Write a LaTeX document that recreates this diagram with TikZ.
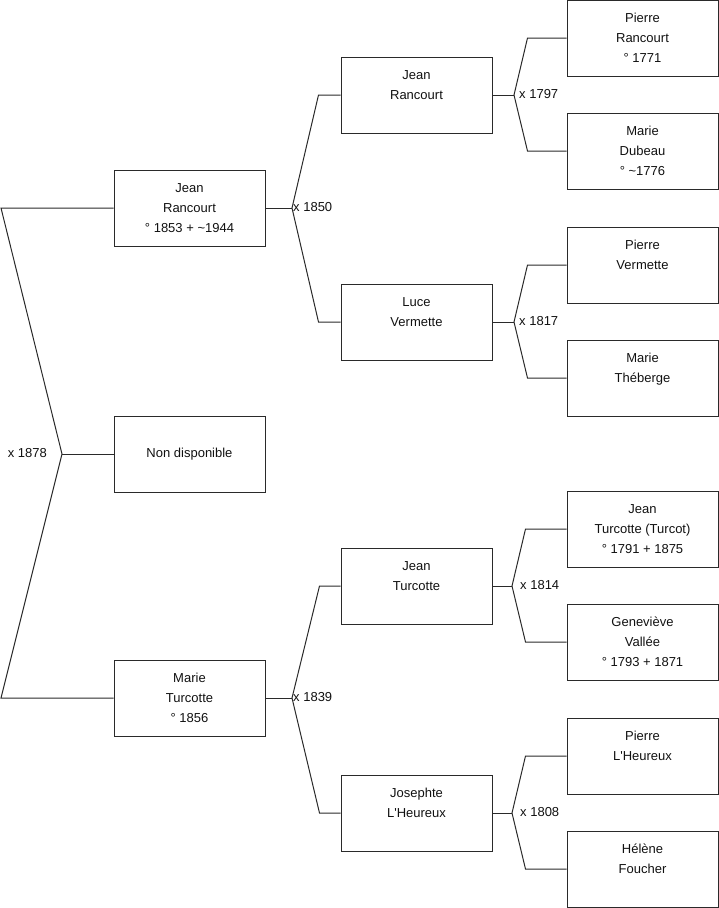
\documentclass[tikz,border=0pt]{standalone}
\usepackage{fontspec}
\setmainfont{Liberation Sans}
\usetikzlibrary{positioning,calc}
\definecolor{gnInk}{HTML}{2A2A2A}
\definecolor{gnText}{HTML}{111111}
\tikzset{
  pers/.style={draw=gnInk, line width=1pt, minimum width=151pt, minimum height=76pt, inner sep=0pt, align=center, text=gnText, font=\fontsize{13}{20}\selectfont},
  lien/.style={draw=gnInk, line width=1pt},
  mar/.style={anchor=west, inner sep=1pt, text=gnText, font=\fontsize{13}{16}\selectfont},
}
\newcommand{\fiche}[3]{\strut#1\\\strut#2\\\strut#3}

\begin{document}
\begin{tikzpicture}[x=1pt, y=-1pt]
  \useasboundingbox (0,0) rectangle (719,908);
  % generation 1
  \node[pers] (p1) at (189.5,208) {\fiche{Jean}{Rancourt}{° 1853 + \textasciitilde1944}};
  \node[pers] (nd) at (189.5,454) {Non disponible};
  \node[pers] (p3) at (189.5,698) {\fiche{Marie}{Turcotte}{° 1856}};
  % generation 2
  \node[pers] (g1) at (416.5,95) {\fiche{Jean}{Rancourt}{}};
  \node[pers] (g2) at (416.5,322) {\fiche{Luce}{Vermette}{}};
  \node[pers] (g3) at (416.5,586) {\fiche{Jean}{Turcotte}{}};
  \node[pers] (g4) at (416.5,813) {\fiche{Josephte}{L\textquotesingle Heureux}{}};
  % generation 3
  \node[pers] (a1) at (642.5,38) {\fiche{Pierre}{Rancourt}{° 1771}};
  \node[pers] (a2) at (642.5,151) {\fiche{Marie}{Dubeau}{° \textasciitilde1776}};
  \node[pers] (a3) at (642.5,265) {\fiche{Pierre}{Vermette}{}};
  \node[pers] (a4) at (642.5,378) {\fiche{Marie}{Théberge}{}};
  \node[pers] (a5) at (642.5,529) {\fiche{Jean}{Turcotte (Turcot)}{° 1791 + 1875}};
  \node[pers] (a6) at (642.5,642) {\fiche{Geneviève}{Vallée}{° 1793 + 1871}};
  \node[pers] (a7) at (642.5,756) {\fiche{Pierre}{L\textquotesingle Heureux}{}};
  \node[pers] (a8) at (642.5,869) {\fiche{Hélène}{Foucher}{}};

  % racine
  \coordinate (m0) at (62,454);
  \coordinate (bord) at (1,0);
  \draw[lien] (p1.west) -- (p1.west -| bord) -- (m0) -- (p3.west -| bord) -- (p3.west);
  \draw[lien] (m0) -- (nd.west);
  \node[mar, anchor=east] (t0) at ([xshift=-14pt, yshift=1pt]m0) {x 1878};

  % mariages
  \foreach \enf/\pere/\mere/\jx/\dx/\lx/\an in {p1/g1/g2/292/22/0/1850, p3/g3/g4/292/21/0/1839,
      g1/a1/a2/514/39/4/1797, g2/a3/a4/514/39/4/1817, g3/a5/a6/512/41/7/1814, g4/a7/a8/512/41/7/1808} {
    \coordinate (cx) at (\jx,0);
    \coordinate (mj) at (\enf.east -| cx);
    \draw[lien] (\enf.east) -- (mj);
    \draw[lien] (\pere.west) -- ++(-\dx,0) -- (mj) -- ($(\mere.west)+(-\dx,0)$) -- (\mere.west);
    \node[mar] at ([xshift=\lx pt, yshift=1pt]mj) {x \an};
  }
\end{tikzpicture}
\end{document}
